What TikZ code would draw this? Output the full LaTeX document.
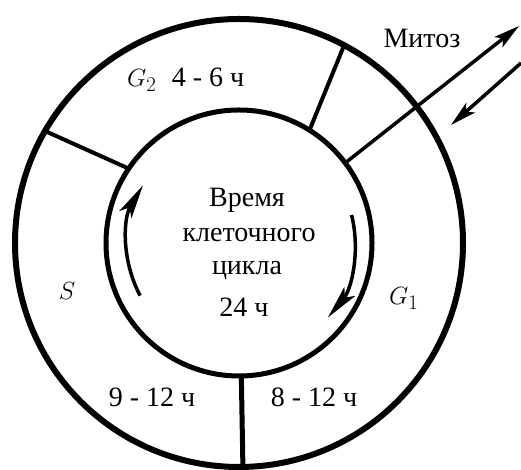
\documentclass[tikz,border=0pt]{standalone}
\usepackage{fontspec}
\setmainfont{Liberation Serif}
\usetikzlibrary{arrows.meta, positioning, calc}

\begin{document}
\begin{tikzpicture}[
          x=1pt, y=1pt,
          font=\fontsize{28}{32}\selectfont,
          ring/.style={draw, circle, outer sep=0pt, inner sep=0pt},
          divider/.style={line width=4pt},
          label/.style={inner sep=0pt},
          cyclearrow/.style={line width=3.5pt, -{Stealth[length=34pt, width=14pt, inset=8pt]}},
          mitarrow/.style={line width=3.5pt, -{Stealth[length=26pt, width=13pt, inset=6pt]}}
        ]
          \useasboundingbox (0,0) rectangle (521,470);
          \coordinate (c) at (239,227);
          % rings
          \node[ring, line width=6pt, minimum size=448pt] (outer) at (c) {};
          \node[ring, line width=5pt, minimum size=266pt] (inner) at (c) {};
          % phase borders
          \draw[divider] (inner.146) -- (outer.150);
          \draw[divider] (inner.58) -- (outer.62);
          \draw[divider, line width=5pt] (inner.-89) -- (outer.-89);
          % mitosis arrows
          \coordinate (mitout) at (519,444);
          \coordinate (mitinstart) at (521,407);
          \coordinate (mitinend) at (451,345);
          \draw[mitarrow] (inner.37) -- (mitout);
          \draw[mitarrow] (mitinstart) -- (mitinend);
          % direction of the cycle
          \draw[cyclearrow] ([shift={(208:112)}]c) arc[start angle=208, end angle=149, radius=112];
          \draw[cyclearrow] ([shift={(14:116)}]c) arc[start angle=14, end angle=-40, radius=116];
          % texts
          \node[label, anchor=base] (mitoz) at (422,422) {Митоз};
          \node[label, anchor=base west] (g2) at (127,383) {\fontsize{31}{32}\selectfont$G_2$\enspace\fontsize{28}{32}\selectfont 4 - 6 ч};
          \node[label, anchor=base] (s) at (67,170) {\fontsize{31}{32}\selectfont$S$};
          \node[label, anchor=base west] (g1) at (389,165) {\fontsize{31}{32}\selectfont$G_1$};
          \node[label, anchor=base] (stime) at (152,63) {9 - 12 ч};
          \node[label, anchor=base] (g1time) at (314,63) {8 - 12 ч};
          \node[label, anchor=base] (l1) at (247,263) {Время};
          \node[label, anchor=base] (l2) at (249,228) {клеточного};
          \node[label, anchor=base] (l3) at (247,195) {цикла};
          \node[label, anchor=base] (total) at (244,153) {24 ч};
        \end{tikzpicture}
\end{document}
